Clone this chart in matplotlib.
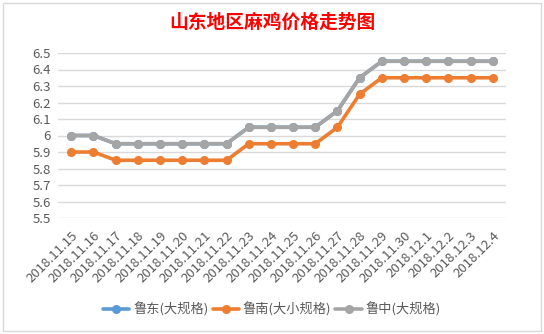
import matplotlib
matplotlib.use("Agg")
import matplotlib.pyplot as plt
from matplotlib.patches import Rectangle

plt.rcParams['font.family'] = ['Noto Sans CJK SC', 'DejaVu Sans']

dates = ["2018.11.15", "2018.11.16", "2018.11.17", "2018.11.18", "2018.11.19",
         "2018.11.20", "2018.11.21", "2018.11.22", "2018.11.23", "2018.11.24",
         "2018.11.25", "2018.11.26", "2018.11.27", "2018.11.28", "2018.11.29",
         "2018.11.30", "2018.12.1", "2018.12.2", "2018.12.3", "2018.12.4"]
ludong = [6.0, 6.0, 5.95, 5.95, 5.95, 5.95, 5.95, 5.95, 6.05, 6.05,
          6.05, 6.05, 6.15, 6.35, 6.45, 6.45, 6.45, 6.45, 6.45, 6.45]
lunan = [5.9, 5.9, 5.85, 5.85, 5.85, 5.85, 5.85, 5.85, 5.95, 5.95,
         5.95, 5.95, 6.05, 6.25, 6.35, 6.35, 6.35, 6.35, 6.35, 6.35]
luzhong = [6.0, 6.0, 5.95, 5.95, 5.95, 5.95, 5.95, 5.95, 6.05, 6.05,
           6.05, 6.05, 6.15, 6.35, 6.45, 6.45, 6.45, 6.45, 6.45, 6.45]
series_names = ["鲁东(大规格)", "鲁南(大小规格)", "鲁中(大规格)"]
yticks = [5.5, 5.6, 5.7, 5.8, 5.9, 6.0, 6.1, 6.2, 6.3, 6.4, 6.5]
ytick_labels = ["5.5", "5.6", "5.7", "5.8", "5.9", "6", "6.1", "6.2", "6.3", "6.4", "6.5"]

colors = ["#5b9bd5", "#ed7d31", "#a5a5a5"]

fig = plt.figure(figsize=(5.44, 3.34), dpi=100)
fig.patch.set_facecolor("white")
fig.patches.append(Rectangle((3/544, 3/334), 538/544, 328/334, transform=fig.transFigure,
                             fill=False, edgecolor="#d9d9d9", linewidth=1))

ax = fig.add_axes([58/544, 1 - 218/334, 448/544, 165/334])
x = list(range(len(dates)))
for vals, c, name in zip([ludong, lunan, luzhong], colors, series_names):
    ax.plot(x, vals, color=c, linewidth=2.6, marker="o", markersize=5.5,
            label=name, solid_capstyle="round")

ax.set_xlim(-0.6, len(dates) - 0.4)
ax.set_ylim(5.5, 6.5)
ax.set_yticks(yticks)
ax.set_yticklabels(ytick_labels)
ax.set_xticks(x)
ax.set_xticklabels(dates, rotation=45, ha="right", rotation_mode="anchor")
ax.tick_params(axis="both", length=0, labelsize=9.5, colors="#595959")
ax.tick_params(axis="y", pad=5)
ax.tick_params(axis="x", pad=8)
ax.grid(axis="y", color="#d9d9d9", linewidth=1)
ax.set_axisbelow(True)
for s in ax.spines.values():
    s.set_visible(False)

fig.text(0.5, 1 - 22/334, "山东地区麻鸡价格走势图", color="#ff0000", fontsize=13.5,
         fontweight="bold", ha="center", va="center")

handles, labels = ax.get_legend_handles_labels()
fig.legend(handles, labels, loc="center", bbox_to_anchor=(0.5, 1 - 309/334), ncol=3,
           frameon=False, fontsize=9.5, handlelength=2.0, columnspacing=0.3,
           handletextpad=0.3, labelcolor="#595959")

fig.savefig("out.png", dpi=100, facecolor="white")
